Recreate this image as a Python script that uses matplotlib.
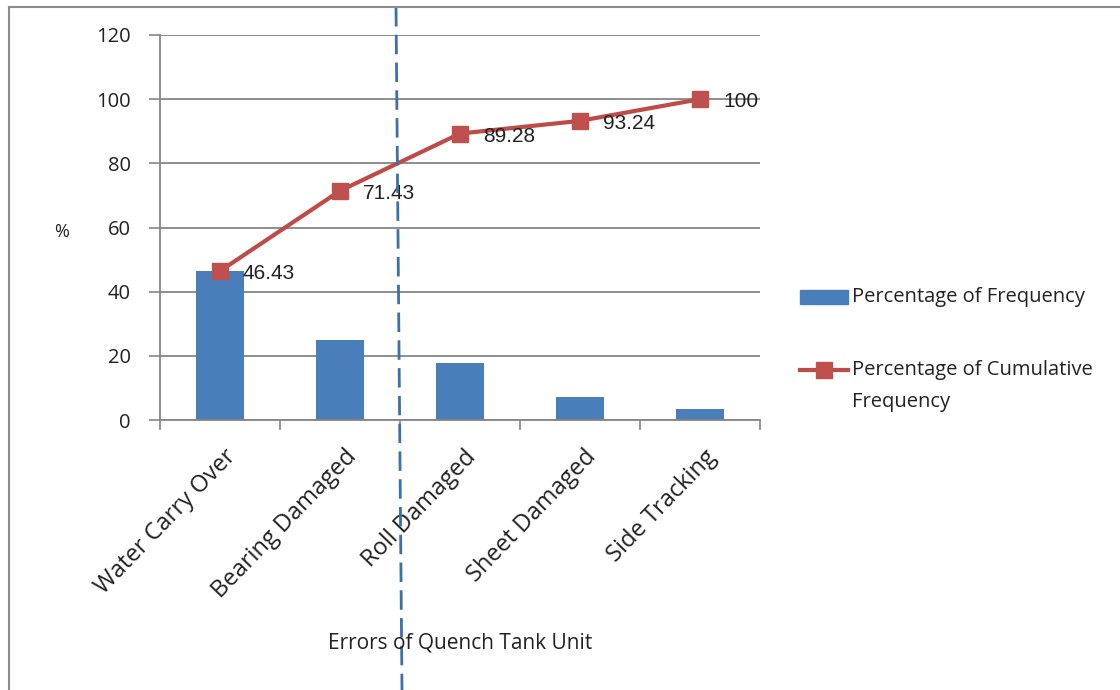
"""
焼入れ槽ユニットの不具合パレート図
"""

import matplotlib
matplotlib.use("Agg")
import matplotlib.pyplot as plt
from matplotlib.lines import Line2D
from matplotlib.patches import Rectangle
import numpy as np

# データ
categories = ["Water Carry Over", "Bearing Damaged", "Roll Damaged",
              "Sheet Damaged", "Side Tracking"]
freq_pct = [46.43, 25.00, 17.85, 7.14, 3.57]
cum_pct = [46.43, 71.43, 89.28, 93.24, 100]
cum_labels = ["46.43", "71.43", "89.28", "93.24", "100"]
y_ticks = [0, 20, 40, 60, 80, 100, 120]

BAR_COLOR = "#4a7ebb"
LINE_COLOR = "#be4b48"
GRID_COLOR = "#868686"
TXT = "#222222"
FONT = "Open Sans"

W, H = 1120, 690
fig = plt.figure(figsize=(W / 100, H / 100), dpi=100)
ax = fig.add_axes([160 / W, 1 - 420 / H, 600 / W, 385 / H])


def px(x, y):
    """ピクセル座標 -> figure座標"""
    return x / W, 1 - y / H


x = np.arange(len(categories))

# 棒グラフ（頻度）
ax.bar(x, freq_pct, width=0.4, color=BAR_COLOR, zorder=2)

# 折れ線（累積）
ax.plot(x, cum_pct, color=LINE_COLOR, linewidth=3, marker="s",
        markersize=12, markerfacecolor="#c0504d", markeredgecolor="#c0504d",
        zorder=3)
for xi, yi, lab in zip(x, cum_pct, cum_labels):
    ax.annotate(lab, (xi, yi), xytext=(16.5, -2), textcoords="offset points",
                ha="left", va="center", fontsize=15,
                family="Liberation Sans", color=TXT, zorder=4)

# 軸設定
ax.set_xlim(-0.5, len(categories) - 0.5)
ax.set_ylim(0, 120)
ax.set_yticks(y_ticks)
ax.set_yticklabels([str(v) for v in y_ticks], fontsize=14.5, family=FONT,
                   color=TXT)
ax.yaxis.grid(True, color=GRID_COLOR, linewidth=1.3, zorder=0)
ax.set_axisbelow(True)
ax.tick_params(axis="y", length=8, width=1.2, color=GRID_COLOR, pad=13)

ax.set_xticks(x)
ax.set_xticks(np.arange(-0.5, len(categories)), minor=True)
ax.set_xticklabels(categories, rotation=46, ha="right",
                   rotation_mode="anchor", fontsize=17, family=FONT,
                   color=TXT)
ax.tick_params(axis="x", which="major", length=0, pad=18)
ax.tick_params(axis="x", which="minor", length=7, width=1.2,
               color=GRID_COLOR)

for lbl in ax.get_xticklabels():
    lbl.set_transform(lbl.get_transform() +
                      matplotlib.transforms.ScaledTranslation(
                          0.04, 0.0, fig.dpi_scale_trans))

for s in ("top", "right"):
    ax.spines[s].set_visible(False)
for s in ("left", "bottom"):
    ax.spines[s].set_color(GRID_COLOR)
    ax.spines[s].set_linewidth(1.3)

# 軸タイトル
fig.text(*px(460, 643), "Errors of Quench Tank Unit", ha="center",
         va="center", fontsize=15, family=FONT, color=TXT)
fig.text(*px(62, 232), "%", ha="center", va="center", fontsize=13,
         family=FONT, color=TXT)

# 凡例
lx0, lx1 = 800, 848
fig.patches.append(Rectangle(px(lx0, 304), (lx1 - lx0) / W, 14 / H,
                             transform=fig.transFigure, color=BAR_COLOR))
fig.text(*px(852, 297), "Percentage of Frequency", ha="left", va="center",
         fontsize=14.5, family=FONT, color=TXT)
fig.lines.append(Line2D([lx0 / W, lx1 / W], [1 - 370 / H] * 2,
                        transform=fig.transFigure, color=LINE_COLOR,
                        linewidth=3))
fig.lines.append(Line2D([(lx0 + lx1) / 2 / W], [1 - 370 / H],
                        transform=fig.transFigure, marker="s",
                        markersize=11, color="#c0504d", linestyle="none"))
fig.text(*px(852, 370), "Percentage of Cumulative", ha="left", va="center",
         fontsize=14.5, family=FONT, color=TXT)
fig.text(*px(852, 402), "Frequency", ha="left", va="center",
         fontsize=14.5, family=FONT, color=TXT)

# 区切りの破線
fig.lines.append(Line2D([396 / W, 402 / W], [1 - 7 / H, 0],
                        transform=fig.transFigure, color="#3d6fa8",
                        linewidth=2, linestyle=(0, (7, 3))))

# 外枠（上・左）
fig.lines.append(Line2D([9 / W, 1], [1 - 7 / H] * 2,
                        transform=fig.transFigure, color="#8c8c8c",
                        linewidth=1.5))
fig.lines.append(Line2D([9 / W] * 2, [1 - 7 / H, 0],
                        transform=fig.transFigure, color="#8c8c8c",
                        linewidth=1.5))

fig.savefig("out.png", dpi=100)
